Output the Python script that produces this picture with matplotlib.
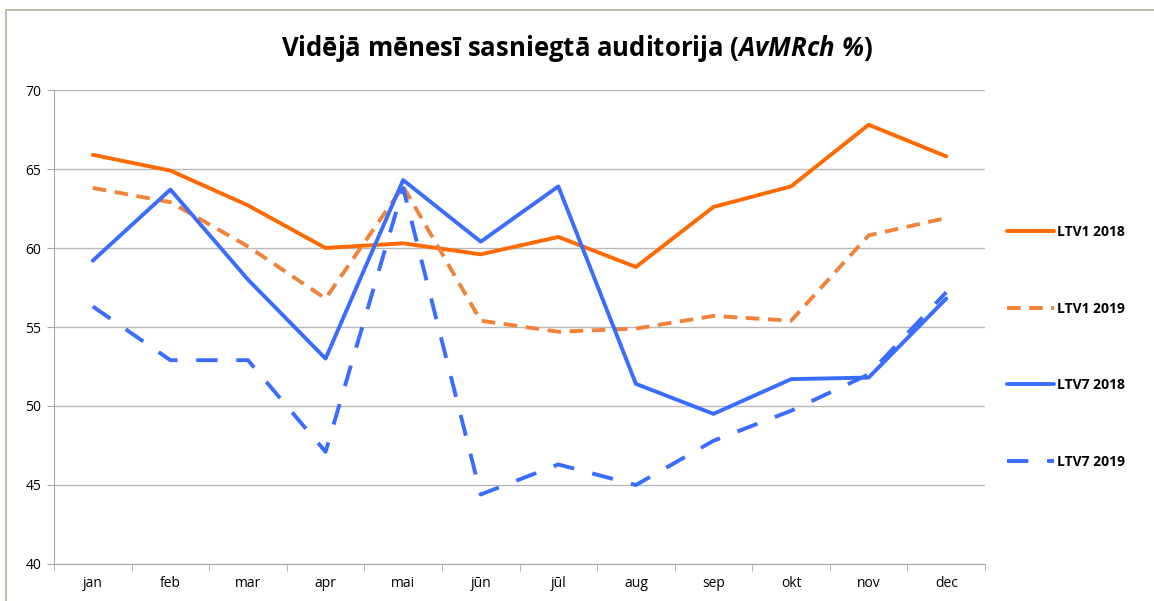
import numpy as np
import matplotlib.pyplot as plt
from matplotlib.patches import Rectangle

months = ['jan', 'feb', 'mar', 'apr', 'mai', 'jūn', 'jūl', 'aug', 'sep', 'okt', 'nov', 'dec']
ltv1_2018 = [65.9, 64.9, 62.7, 60.0, 60.3, 59.6, 60.7, 58.8, 62.6, 63.9, 67.8, 65.8]
ltv1_2019 = [63.8, 62.9, 60.1, 56.8, 63.9, 55.4, 54.7, 54.9, 55.7, 55.4, 60.8, 61.9]
ltv7_2018 = [59.2, 63.7, 58.0, 53.0, 64.3, 60.4, 63.9, 51.4, 49.5, 51.7, 51.8, 56.8]
ltv7_2019 = [56.3, 52.9, 52.9, 47.1, 63.8, 44.4, 46.3, 45.0, 47.8, 49.7, 52.0, 57.2]

plt.rcParams['font.family'] = ['Open Sans', 'DejaVu Sans']
plt.rcParams['mathtext.fontset'] = 'custom'
plt.rcParams['mathtext.it'] = 'Open Sans:italic:bold'
plt.rcParams['mathtext.rm'] = 'Open Sans:italic:bold'

fig = plt.figure(figsize=(11.54, 6.01), dpi=100)
ax = fig.add_axes([0.0468, 0.0616, 0.8068, 0.7886])

# outer chart frame
fig.patches.append(Rectangle((0.005, -0.01), 1.2, 0.993, transform=fig.transFigure,
                             fill=False, edgecolor='#b5b59a', lw=1.2))

x = np.arange(len(months))
ax.plot(x, ltv1_2018, color='#ff6a00', lw=2.8, label='LTV1 2018', solid_capstyle='round')
ax.plot(x, ltv1_2019, color='#f0833a', lw=2.8, dashes=(3.5, 2.2), label='LTV1 2019')
ax.plot(x, ltv7_2018, color='#3a6dff', lw=2.8, label='LTV7 2018', solid_capstyle='round')
ax.plot(x, ltv7_2019, color='#3a6dff', lw=2.8, dashes=(5.5, 4.8), label='LTV7 2019')

ax.set_xlim(-0.5, 11.5)
ax.set_ylim(40, 70)
ax.set_yticks(np.arange(40, 71, 5))
ax.set_xticks(x)
ax.set_xticklabels(months)
ax.set_xticks(np.arange(-0.5, 12, 1), minor=True)
ax.tick_params(axis='x', which='major', length=0, pad=9, labelsize=10)
ax.tick_params(axis='x', which='minor', length=5, color='#aaaaaa')
ax.tick_params(axis='y', length=5, color='#aaaaaa', labelsize=10, pad=4)
ax.grid(axis='y', color='#b8b8b8', lw=1)
ax.set_axisbelow(True)
for s in ['top', 'right']:
    ax.spines[s].set_visible(False)
for s in ['left', 'bottom']:
    ax.spines[s].set_color('#aaaaaa')

fig.suptitle('Vidējā mēnesī sasniegtā auditorija ($\\mathit{AvMRch\\ \\%}$)',
             y=0.945, fontsize=18.5, fontweight='bold')

leg = fig.legend(loc='center left', bbox_to_anchor=(0.862, 0.423), frameon=False,
                 prop={'weight': 'bold', 'size': 10}, labelspacing=4.5,
                 handlelength=3.4, handletextpad=0.2)

plt.savefig('out.png', dpi=100)
